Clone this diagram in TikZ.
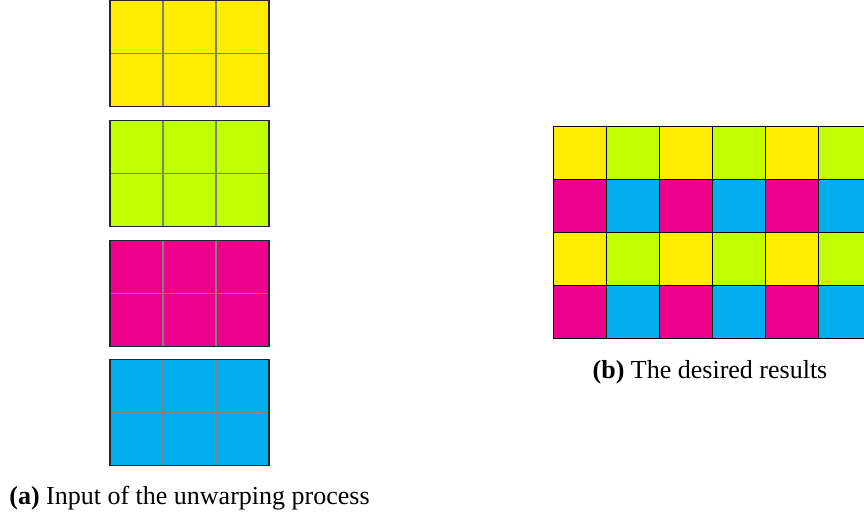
\documentclass[tikz,border=0pt]{standalone}
\usepackage{fontspec}
\setmainfont{Liberation Serif}
\usetikzlibrary{positioning}
\definecolor{TileYellow}{RGB}{255,237,0}
\definecolor{TileLime}{RGB}{191,255,0}
\definecolor{TileMagenta}{RGB}{236,0,140}
\definecolor{TileCyan}{RGB}{0,174,239}

\begin{document}
\begin{tikzpicture}[x=1pt, y=1pt, font=\fontsize{26}{30}\selectfont]
    \useasboundingbox (0,0) rectangle (864,523);
    % Draw input blocks, 2 x 3 cells each
    \foreach \c [count=\i from 0] in {TileYellow,TileLime,TileMagenta,TileCyan} {
        \pgfmathsetmacro{\ytop}{522.5-119.8*\i}
        \fill[\c] (110,\ytop-106) rectangle (269,\ytop);
        \draw[black!50, line width=1.1pt] (163,\ytop) -- (163,\ytop-106);
        \draw[black!50, line width=1.1pt] (216,\ytop) -- (216,\ytop-106);
        \draw[black!50, line width=1.1pt] (110,\ytop-53) -- (269,\ytop-53);
        \draw[black!85, line width=1.1pt] (110,\ytop-106) rectangle (269,\ytop);
    }
    % Draw the interleaved result grid
    \foreach \r/\ca/\cb in {0/TileYellow/TileLime,1/TileMagenta/TileCyan,2/TileYellow/TileLime,3/TileMagenta/TileCyan} {
        \foreach \k in {0,2,4} {
            \filldraw[fill=\ca, draw=black, line width=1pt] (553+53*\k,396.3-53*\r) rectangle ++(53,-53);
            \filldraw[fill=\cb, draw=black, line width=1pt] (606+53*\k,396.3-53*\r) rectangle ++(53,-53);
        }
    }
    % Captions
    \node[anchor=base, inner sep=0pt] (capA) at (189.5,19) {\textbf{(a)} Input of the unwarping process};
    \node[anchor=base, inner sep=0pt] (capB) at (710,145) {\textbf{(b)} The desired results};
\end{tikzpicture}
\end{document}
